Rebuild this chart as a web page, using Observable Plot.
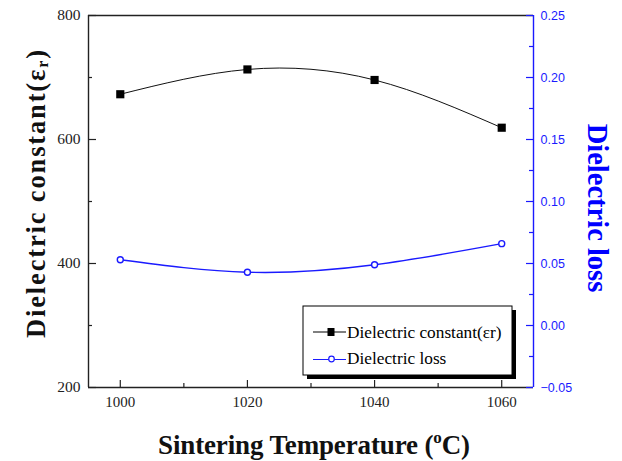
<!DOCTYPE html>
<html><head><meta charset="utf-8">
<script src="https://cdn.jsdelivr.net/npm/d3@7"></script>
<script src="https://cdn.jsdelivr.net/npm/@observablehq/plot@0.6"></script>
<style>
html,body{margin:0;padding:0;background:#fff;}
#wrap{position:relative;width:622px;height:461px;}
#wrap svg{position:absolute;left:0;top:0;}
</style></head>
<body><div id="wrap"></div>
<script>
// ---- data ----
const temperatures = [1000, 1020, 1040, 1060];
const dielectricConstant = [673, 713, 696, 619];
const dielectricLoss = [0.053, 0.043, 0.049, 0.066];
const xTickLabels = [1000, 1020, 1040, 1060];
const xMinorTicks = [1010, 1030, 1050];
const yLeftTicks = [200, 400, 600, 800];
const yLeftMinor = [300, 500, 700];
const yRightTicks = [-0.05, 0, 0.05, 0.10, 0.15, 0.20, 0.25];
const yRightMinor = [-0.025, 0.025, 0.075, 0.125, 0.175, 0.225];

const W = 622, H = 461, ML = 88, MR = 89, MT = 15, MB = 74;
const innerW = W - ML - MR, innerH = H - MT - MB;
const xDomain = [995, 1065];
const axisColor = "#222";
const blue = "#1a1aff";

const constRows = temperatures.map((t, i) => ({t, v: dielectricConstant[i]}));
const lossRows = temperatures.map((t, i) => ({t, v: dielectricLoss[i]}));

const common = {width: W, height: H, marginLeft: ML, marginRight: MR, marginTop: MT, marginBottom: MB};

const p1 = Plot.plot({
  ...common,
  x: {domain: xDomain},
  y: {domain: [200, 800]},
  style: {fontFamily: "Liberation Serif", fontSize: "15.5px", color: axisColor, background: "white"},
  marks: [
    Plot.axisY({ticks: yLeftTicks, tickSize: 0, tickPadding: 8, label: null, fontSize: 15.5}),
    Plot.axisX({ticks: xTickLabels, tickSize: 0, tickPadding: 9, label: null, fontSize: 15, tickFormat: d => String(d)}),
    Plot.tickY(yLeftTicks, {y: d => d, insetRight: innerW - 8, stroke: axisColor, strokeWidth: 1.2}),
    Plot.tickY(yLeftMinor, {y: d => d, insetRight: innerW - 4, stroke: axisColor, strokeWidth: 1.2}),
    Plot.tickX(xTickLabels, {x: d => d, insetTop: innerH - 7, stroke: axisColor, strokeWidth: 1.2}),
    Plot.tickX(xMinorTicks, {x: d => d, insetTop: innerH - 4, stroke: axisColor, strokeWidth: 1.2}),
    Plot.ruleX([xDomain[0]], {stroke: axisColor, strokeWidth: 1.4}),
    Plot.ruleY([200, 800], {stroke: axisColor, strokeWidth: 1.4}),
    Plot.line(constRows, {x: "t", y: "v", curve: "natural", stroke: "#111", strokeWidth: 1}),
    Plot.dot(constRows, {x: "t", y: "v", symbol: "square", r: 4.6, fill: "#000", stroke: "none"})
  ]
});

const p2 = Plot.plot({
  ...common,
  x: {domain: xDomain, axis: null},
  y: {domain: [-0.05, 0.25]},
  style: {fontFamily: "Liberation Sans", fontSize: "12.5px", color: blue, background: "transparent"},
  marks: [
    Plot.axisY({anchor: "right", ticks: yRightTicks, tickSize: 0, tickPadding: 7, label: null,
      fontSize: 12.5, tickFormat: d3.format(".2f")}),
    Plot.tickY(yRightTicks, {y: d => d, insetLeft: innerW - 7, stroke: blue, strokeWidth: 1.2}),
    Plot.tickY(yRightMinor, {y: d => d, insetLeft: innerW - 4, stroke: blue, strokeWidth: 1.2}),
    Plot.ruleX([xDomain[1]], {stroke: blue, strokeWidth: 1.4}),
    Plot.line(lossRows, {x: "t", y: "v", curve: "natural", stroke: blue, strokeWidth: 1.4}),
    Plot.dot(lossRows, {x: "t", y: "v", r: 3, fill: "white", stroke: blue, strokeWidth: 1.4})
  ]
});

const wrap = document.getElementById("wrap");
wrap.appendChild(p1);
wrap.appendChild(p2);

// titles
const s = d3.select(p2);
const lt = s.append("text")
  .attr("transform", "translate(45,194) rotate(-90)")
  .attr("text-anchor", "middle")
  .attr("textLength", 288).attr("lengthAdjust", "spacing")
  .style("font-family", "Liberation Serif").style("font-weight", "bold")
  .style("font-size", "26.5px").attr("fill", "#111");
lt.append("tspan").text("Dielectric constant(ε");
lt.append("tspan").text("r").style("font-size", "16px").attr("dy", 3);
lt.append("tspan").text(")").attr("dy", -3);

s.append("text")
  .attr("transform", "translate(588,208) rotate(90)")
  .attr("text-anchor", "middle")
  .style("font-family", "Liberation Serif").style("font-weight", "bold")
  .style("font-size", "28.5px").attr("fill", "#0000ff")
  .text("Dielectric loss");

const xt = s.append("text")
  .attr("x", 314).attr("y", 454)
  .attr("text-anchor", "middle")
  .attr("textLength", 312).attr("lengthAdjust", "spacing")
  .style("font-family", "Liberation Serif").style("font-weight", "bold")
  .style("font-size", "27px").attr("fill", "#111");
xt.append("tspan").text("Sintering Temperature (");
xt.append("tspan").text("o").style("font-size", "17px").attr("dy", -11);
xt.append("tspan").text("C)").attr("dy", 11);

// legend
const lg = s.append("g").style("font-family", "Liberation Serif").style("font-size", "17.3px")
  .attr("text-anchor", "start");
lg.append("rect").attr("x", 307).attr("y", 310).attr("width", 209).attr("height", 69).attr("fill", "#000");
lg.append("rect").attr("x", 303).attr("y", 306).attr("width", 209).attr("height", 69)
  .attr("fill", "#fff").attr("stroke", "#000").attr("stroke-width", 1);
lg.append("line").attr("x1", 313).attr("x2", 346).attr("y1", 332).attr("y2", 332).attr("stroke", "#000").attr("stroke-width", 1.2);
lg.append("rect").attr("x", 327.5).attr("y", 328).attr("width", 7).attr("height", 8).attr("fill", "#000");
lg.append("text").attr("x", 347).attr("y", 337.5).attr("fill", "#000").attr("text-anchor", "start").text("Dielectric constant(εr)");
lg.append("line").attr("x1", 313).attr("x2", 346).attr("y1", 359.5).attr("y2", 359.5).attr("stroke", blue).attr("stroke-width", 1.2);
lg.append("circle").attr("cx", 331.5).attr("cy", 359).attr("r", 2.8).attr("fill", "#fff").attr("stroke", blue).attr("stroke-width", 1.2);
lg.append("text").attr("x", 347).attr("y", 363.5).attr("fill", "#000").attr("text-anchor", "start").text("Dielectric loss");
</script></body></html>
